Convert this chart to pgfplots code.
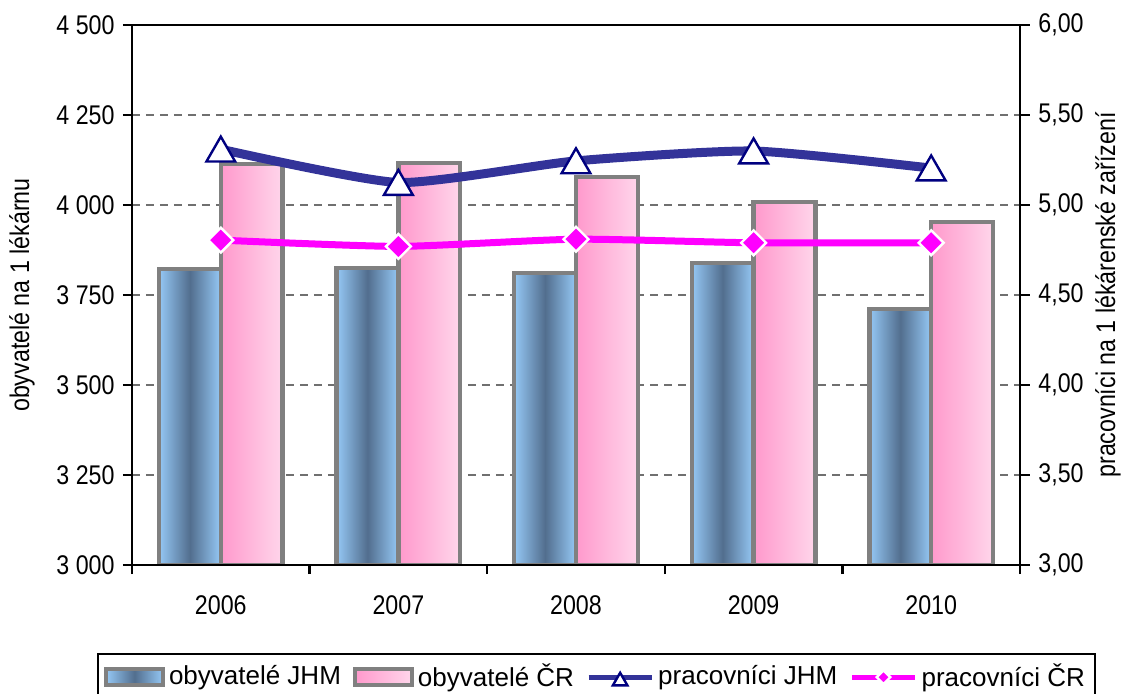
\documentclass[12pt,border=0pt]{standalone}
\usepackage{fontspec}
\setmainfont{Liberation Sans}
\newfontfamily\narrowfont[FakeStretch=0.86]{Liberation Sans}
\usepackage{pgfplots}
\pgfplotsset{compat=1.18}

\definecolor{jhmlight}{HTML}{95C8F5}
\definecolor{jhmdark}{HTML}{526E8E}
\definecolor{crleft}{HTML}{FF99CC}
\definecolor{crright}{HTML}{FFD6EB}
\definecolor{bargray}{HTML}{808080}
\definecolor{gridgray}{HTML}{707070}
\definecolor{jhmline}{HTML}{333399}
\definecolor{jhmmark}{HTML}{000080}
\definecolor{crline}{HTML}{FF00FF}

\tikzset{axisfont/.style={font=\narrowfont\fontsize{13.5}{15}\selectfont}}

\pgfplotsset{
    barlegend/.style={legend image code/.code={\draw[##1] (1pt,-4pt) rectangle (29.5pt,4pt);}},
    linelegend/.style 2 args={legend image code/.code={\draw[##1, line width=#1, mark size=#2,
        mark repeat=2, mark phase=2] plot coordinates {(0pt,0pt) (15.75pt,0pt) (31.5pt,0pt)};}},
    % each bar its own plot, so that the shading is per bar
    jhmbar/.style={ybar, bar width=0.348, bar shift=-0.174, draw=bargray, line width=2.2pt,
        left color=jhmlight, right color=jhmlight, middle color=jhmdark},
    crbar/.style={ybar, bar width=0.348, bar shift=0.174, draw=bargray, line width=2.2pt,
        left color=crleft, right color=crright},
}

\begin{document}
\begin{tikzpicture}
\path[use as bounding box] (0,0) rectangle (566pt,346.5pt);

% levá osa: obyvatelé na 1 lékárnu (sloupce)
\begin{axis}[
    at={(66pt,64pt)}, anchor=south west,
    width=444pt, height=270pt, scale only axis,
    xmin=-0.5, xmax=4.5, ymin=3000, ymax=4500,
    xtick={-0.5,0.5,1.5,2.5,3.5,4.5},
    x tick label as interval,
    xticklabels={2006,2007,2008,2009,2010},
    xtick pos=bottom,
    xticklabel style={yshift=-6.5pt},
    ytick={3000,3250,3500,3750,4000,4250,4500},
    yticklabels={3 000,3 250,3 500,3 750,4 000,4 250,4 500},
    ytick pos=left,
    tick label style={axisfont},
    tick align=outside,
    major tick length=4.5pt,
    tick style={black, line width=1.2pt},
    axis line style={line width=1.2pt},
    ymajorgrids,
    major grid style={draw=gridgray, dash pattern=on 4pt off 3pt, line width=0.6pt},
    ylabel={obyvatelé na 1 lékárnu},
    ylabel style={axisfont, at={(axis description cs:-0.124,0.5)}, anchor=center},
]
\addplot[jhmbar] coordinates {(0,3822)};
\addplot[crbar]  coordinates {(0,4114)};
\addplot[jhmbar] coordinates {(1,3825)};
\addplot[crbar]  coordinates {(1,4117)};
\addplot[jhmbar] coordinates {(2,3811)};
\addplot[crbar]  coordinates {(2,4078)};
\addplot[jhmbar] coordinates {(3,3839)};
\addplot[crbar]  coordinates {(3,4008)};
\addplot[jhmbar] coordinates {(4,3711)};
\addplot[crbar]  coordinates {(4,3953)};
\end{axis}

% pravá osa: pracovníci na 1 lékárenské zařízení (čáry)
\begin{axis}[
    at={(66pt,64pt)}, anchor=south west,
    width=444pt, height=270pt, scale only axis,
    xmin=-0.5, xmax=4.5, ymin=3, ymax=6,
    xtick=\empty,
    ytick={3,3.5,4,4.5,5,5.5,6},
    yticklabels={{3,00},{3,50},{4,00},{4,50},{5,00},{5,50},{6,00}},
    ytick pos=right,
    tick label style={axisfont},
    tick align=outside,
    major tick length=5pt,
    tick style={black, line width=1.2pt},
    axis line style={line width=1.2pt},
    ylabel={pracovníci na 1 lékárenské zařízení},
    ylabel style={axisfont, at={(axis description cs:1.099,0.5)}, anchor=center},
    legend columns=4,
    legend cell align=left,
    legend style={at={(axis description cs:-0.0394,-0.163)}, anchor=north west,
        draw=black, line width=1pt, font=\fontsize{13}{15}\selectfont,
        inner xsep=3pt, inner ysep=3pt,
        /tikz/every even column/.append style={column sep=4pt}},
]
\addlegendimage{barlegend, draw=bargray, line width=2pt, left color=jhmlight,
    right color=jhmlight, middle color=jhmdark}
\addlegendentry{obyvatelé JHM}
\addlegendimage{barlegend, draw=bargray, line width=2pt, left color=crleft, right color=crright}
\addlegendentry{obyvatelé ČR}

\addplot[smooth, tension=0.35, color=jhmline, line width=4.5pt, mark=triangle*, mark size=8.3pt,
    mark options={fill=white, draw=jhmmark, line width=1.2pt, yshift=-2pt},
    linelegend={2.6pt}{4.2pt}]
    coordinates {(0,5.31) (1,5.125) (2,5.245) (3,5.30) (4,5.205)};
\addlegendentry{pracovníci JHM}
\addplot[smooth, tension=0.35, color=crline, line width=3.5pt, mark=square*, mark size=4.4pt,
    mark options={rotate=45, fill=crline, draw=white, line width=1.2pt},
    linelegend={2.6pt}{2.4pt}]
    coordinates {(0,4.805) (1,4.77) (2,4.81) (3,4.79) (4,4.79)};
\addlegendentry{pracovníci ČR}
\end{axis}
\end{tikzpicture}
\end{document}
